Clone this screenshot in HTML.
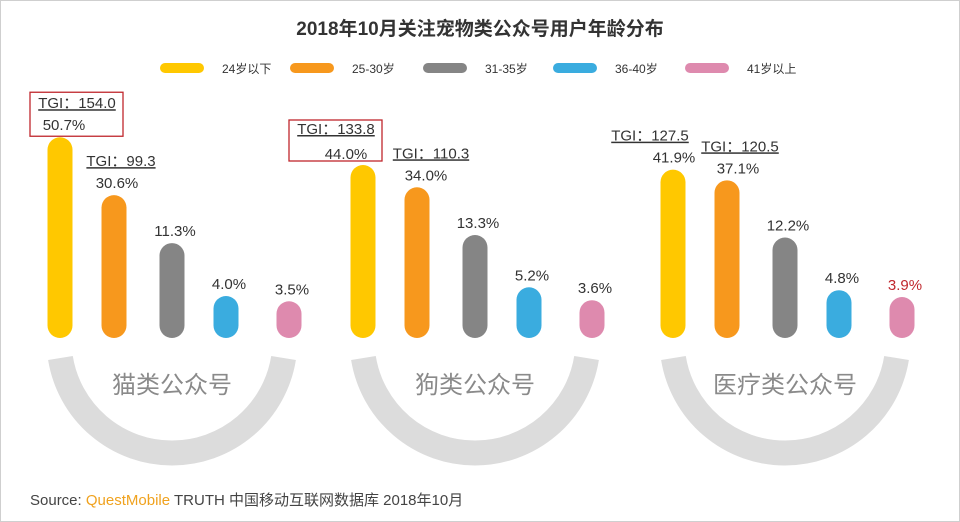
<!DOCTYPE html>
<html><head><meta charset="utf-8">
<style>
html,body{margin:0;padding:0;background:#fff;}
svg{display:block;font-family:"Liberation Sans","Noto Sans CJK SC",sans-serif;}
</style></head>
<body>
<svg id="c" width="960" height="522" viewBox="0 0 960 522">
<rect x="0.5" y="0.5" width="959" height="521" fill="#fff" stroke="#cfcfcf"/>
<text x="480" y="35" text-anchor="middle" font-size="19" font-weight="bold" fill="#333">2018年10月关注宠物类公众号用户年龄分布</text>
<g id="legend"></g>
<g id="rings"></g>
<g id="bars"></g>
<text x="30" y="505" font-size="15" fill="#444">Source:  <tspan fill="#F0A21E">QuestMobile</tspan> TRUTH 中国移动互联网数据库 2018年10月</text>
</svg>
<script>
const groups = ["猫类公众号","狗类公众号","医疗类公众号"];
const series = ["24岁以下","25-30岁","31-35岁","36-40岁","41岁以上"];
const catValues = [50.7,30.6,11.3,4.0,3.5];
const dogValues = [44.0,34.0,13.3,5.2,3.6];
const medValues = [41.9,37.1,12.2,4.8,3.9];
const catTGI = [154.0,99.3,null,null,null];
const dogTGI = [133.8,110.3,null,null,null];
const medTGI = [127.5,120.5,null,null,null];

const values=[catValues,dogValues,medValues], tgis=[catTGI,dogTGI,medTGI];
const colors=["#FFC800","#F7981D","#858585","#3AACDF","#DE8AAE"];
const groupCenter=[172,475,785], offs=[-112,-58,0,54,117];
const pctDx=[[4,3,3,3,3],[-17,9,3,3,3],[1,11,3,3,3]];
const tgiDx=[[17,7],[-27,14],[-23,13]];
const baseY=338, barW=25;
const kd=[0,4,12,35,44,51], kr=[0,42,100,153,173,202];
function hScale(v){for(let i=1;i<kd.length;i++){if(v<=kd[i]||i===kd.length-1){const t=(v-kd[i-1])/(kd[i]-kd[i-1]);return kr[i-1]+t*(kr[i]-kr[i-1]);}}}
const NS="http://www.w3.org/2000/svg";
function mk(tag,attrs,parent,text){const e=document.createElementNS(NS,tag);for(const k in attrs)e.setAttribute(k,attrs[k]);if(text!==undefined)e.textContent=text;parent.appendChild(e);return e;}
const lg=document.getElementById('legend');
const lx=[160,290,423,553,685];
series.forEach((s,i)=>{
  const r=mk('rect',{x:lx[i],y:63,width:44,height:10,rx:5,fill:colors[i]},lg);
  
  
  const t=mk('text',{x:lx[i]+62,y:73,'font-size':12,fill:'#333'},lg,s);
  
  
});
const rg=document.getElementById('rings');
groups.forEach((g,gi)=>{
  const cx=groupCenter[gi], cy=340, R=113;
  const yTop=358, dy=yTop-cy, dx=Math.sqrt(R*R-dy*dy);
  const p=mk('path',{d:`M${cx-dx},${yTop} A${R},${R} 0 0 0 ${cx+dx},${yTop}`,fill:'none',stroke:'#dcdcdc','stroke-width':25},rg);
  
  
  const t=mk('text',{x:cx,y:393,'text-anchor':'middle','font-size':24,fill:'#8a8a8a'},rg,g);
  
  
});
const bg=document.getElementById('bars');
values.forEach((vals,gi)=>{
  vals.forEach((v,i)=>{
    const cx=groupCenter[gi]+offs[i], h=hScale(v), top=baseY-h;
    const b=mk('rect',{x:cx-barW/2,y:top,width:barW,height:h,rx:barW/2,fill:colors[i]},bg);
    
    
    const red=(gi===2&&i===4);
    const pt=mk('text',{x:cx+pctDx[gi][i],y:top-(gi===1&&i===0?6:7),'text-anchor':'middle','font-size':15,fill:red?'#C0272D':'#333'},bg,v.toFixed(1)+'%');
    
    
    const tg=tgis[gi][i];
    if(tg!==null){
      const tx=cx+tgiDx[gi][i];
      const ty=top-(gi===1&&i===0?31:29);
      const tt=mk('text',{x:tx,y:ty,'text-anchor':'middle','font-size':15,fill:'#333','text-decoration':'underline'},bg,'TGI：'+tg.toFixed(1));
      
      
      if(i===0&&gi<2){
        const by=gi===0?ty-16:ty-14;
        const bx=mk('rect',{x:tx-47,y:by,width:93,height:(gi===0?44:41),fill:'none',stroke:'#C0272D','stroke-width':1.3},bg);
        
        
      }
    }
  });
});
</script>
</body></html>
